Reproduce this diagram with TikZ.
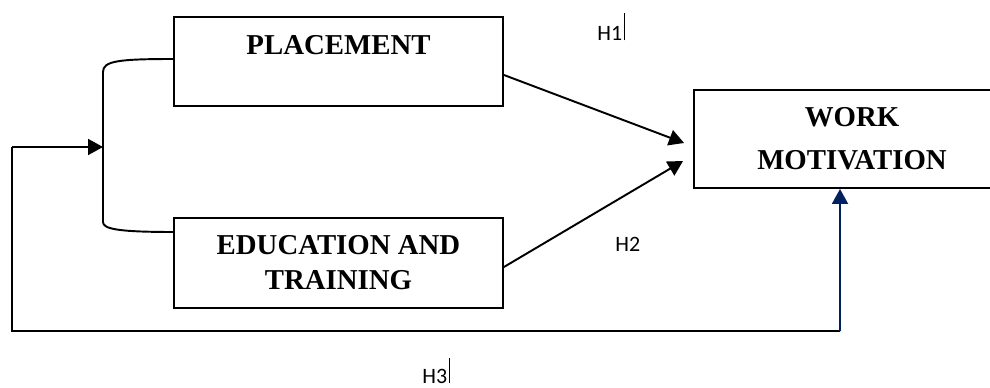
\documentclass[tikz,border=0pt]{standalone}
\usepackage{fontspec}
\setmainfont{Liberation Serif}
\newfontfamily\labelfont{Carlito}
\usetikzlibrary{arrows.meta}

\definecolor{navyline}{HTML}{002060}

\tikzset{
    var/.style={draw, line width=1.1pt, align=center, font=\fontsize{16.4}{19.9}\selectfont\bfseries},
    hyp/.style={font=\labelfont\fontsize{12.5}{14}\selectfont, inner sep=0pt, anchor=base west},
    conn/.style={line width=1.1pt},
}

\begin{document}
\begin{tikzpicture}[x=0.02cm, y=-0.02cm, >={Triangle[length=0.3cm,width=0.32cm]}]
    \useasboundingbox (0,0) rectangle (990,388);

    % Nodes {place, edu, work}
    \node [var, minimum width=6.58cm, minimum height=1.78cm]  (place) at (338.5,61.5) {PLACEMENT\\[-6.8pt]\strut};
    \node [var, minimum width=6.58cm, minimum height=1.8cm]   (edu)   at (338.5,263)  {EDUCATION AND\\TRAINING};
    \node [var, minimum width=6.32cm, minimum height=1.96cm, font=\fontsize{16.4}{24.4}\selectfont\bfseries]
                                                             (work)  at (852,139)    {WORK\\MOTIVATION};

    % Hypothesis labels
    \node [hyp] (h1) at (597,40.5) {H1\hspace{1pt}\rule{0.4pt}{0.56cm}};
    \node [hyp] (h2) at (615,252)  {H2};
    \node [hyp] (h3) at (422,383)  {H3\hspace{1pt}\rule{0.4pt}{0.5cm}};

    % Helper points
    \coordinate (top)  at (174,59);
    \coordinate (bot)  at (174,232);
    \coordinate (fork) at (103,147);
    \coordinate (in)   at (12,147);
    \coordinate (low)  at (840,331);

    % Bracket joining the two inputs
    \draw [conn] (top) .. controls (118,59) and (103,61) .. (103,72)
                 -- (103,222) .. controls (103,229) and (118,232) .. (bot);

    % Paths
    \path [->, conn] ([yshift=-0.27cm]place.east) edge ([xshift=-0.18cm,yshift=-0.08cm]work.west);
    \path [->, conn] ([yshift=-0.08cm]edu.east)   edge ([xshift=-0.2cm,yshift=-0.44cm]work.west);
    \draw [->, conn] (in) -- (fork);
    \draw [conn] (in) |- (low);
    \draw [->, conn, navyline] (low) -- ([xshift=-0.24cm]work.south);

\end{tikzpicture}
\end{document}
